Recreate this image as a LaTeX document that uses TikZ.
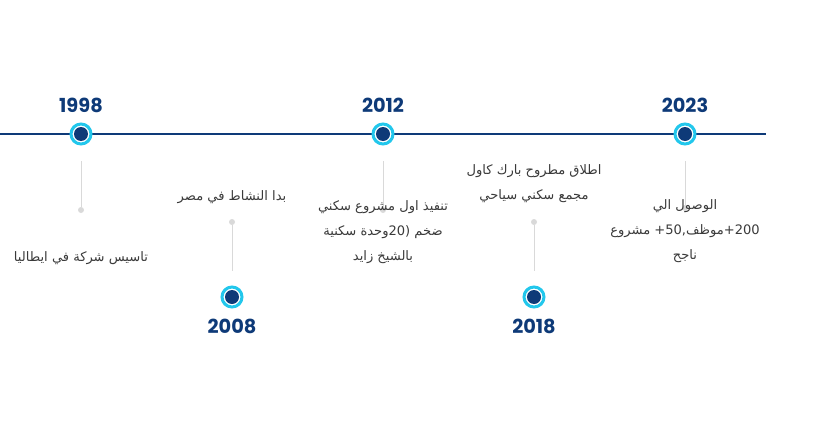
\documentclass[tikz,border=0pt]{standalone}
\usepackage{fontspec}
\newfontfamily\yearfont{Poppins}
\newfontfamily\arabicfont[Script=Arabic]{DejaVu Sans}
\TeXXeTstate=1
\definecolor{navy}{HTML}{0E3A78}
\definecolor{ringcyan}{HTML}{22C7EC}
\definecolor{stemgray}{HTML}{D9D9D9}
\definecolor{notegray}{HTML}{3A3A3A}
\tikzset{
milestone/.style={circle, minimum size=15pt, inner sep=0pt, draw=ringcyan, line width=2.25pt, fill=white,
  path picture={\fill[navy] (path picture bounding box.center) circle (5.25pt);}},
year/.style={text=navy, font=\yearfont\bfseries\fontsize{14.5}{16}\selectfont, inner sep=0pt},
note/.style={text=notegray, align=center, inner sep=0pt, font=\arabicfont\fontsize{9.8}{18.75}\selectfont},
stemdot/.style={circle, fill=stemgray, minimum size=4.5pt, inner sep=0pt},
stem/.style={stemgray, line width=0.75pt},
timeline/.style={navy, line width=1pt}}

\begin{document}
\begin{tikzpicture}[x=0.75pt, y=-0.75pt]
\useasboundingbox (0,0) rectangle (814,432);
\coordinate (start) at (0,134);
\coordinate (end) at (766,134);
\draw [timeline] (start) -- (end);

% stems
\coordinate (s1998) at (81,161);
\node (t1998) [stemdot] at (81,210) {};
\coordinate (s2012) at (383,161);
\node (t2012) [stemdot] at (383,210) {};
\coordinate (s2023) at (685,161);
\node (t2023) [stemdot] at (685,208) {};
\node (t2008) [stemdot] at (232,222) {};
\coordinate (s2008) at (232,271);
\node (t2018) [stemdot] at (534,222) {};
\coordinate (s2018) at (534,271);
\draw [stem] (s1998) -- (t1998);
\draw [stem] (s2012) -- (t2012);
\draw [stem] (s2023) -- (t2023);
\draw [stem] (t2008) -- (s2008);
\draw [stem] (t2018) -- (s2018);

% milestones
\node (m1998) [milestone] at (81,134) {};
\node (m2012) [milestone] at (383,134) {};
\node (m2023) [milestone] at (685,134) {};
\node (m2008) [milestone] at (232,297) {};
\node (m2018) [milestone] at (534,297) {};

\node (y1998) [year, above of=m1998, node distance=21.75pt] {1998};
\node (y2012) [year, above of=m2012, node distance=21.75pt] {2012};
\node (y2023) [year, above of=m2023, node distance=21.75pt] {2023};
\node (y2008) [year, below of=m2008, node distance=21.75pt] {2008};
\node (y2018) [year, below of=m2018, node distance=21.75pt] {2018};

% notes
\node (n1998) [note] at (81,258) {\beginR تاسيس شركة في ايطاليا\endR};
\node (n2008) [note] at (232,197) {\beginR بدا النشاط في مصر\endR};
\node (n2012) [note] at (383,232) {\beginR تنفيذ اول مشروع سكني\endR\\
  \beginR ضخم (\beginL 20\endL{}وحدة سكنية\endR\\
  \beginR بالشيخ زايد\endR};
\node (n2018) [note] at (534,184) {\beginR اطلاق مطروح بارك كاول\endR\\
  \beginR مجمع سكني سياحي\endR};
\node (n2023) [note] at (685,231) {\beginR الوصول الي\endR\\
  \beginR\beginL 200\endL{}+موظف,\beginL 50\endL{}+ مشروع\endR\\
  \beginR ناجح\endR};
\end{tikzpicture}
\end{document}
